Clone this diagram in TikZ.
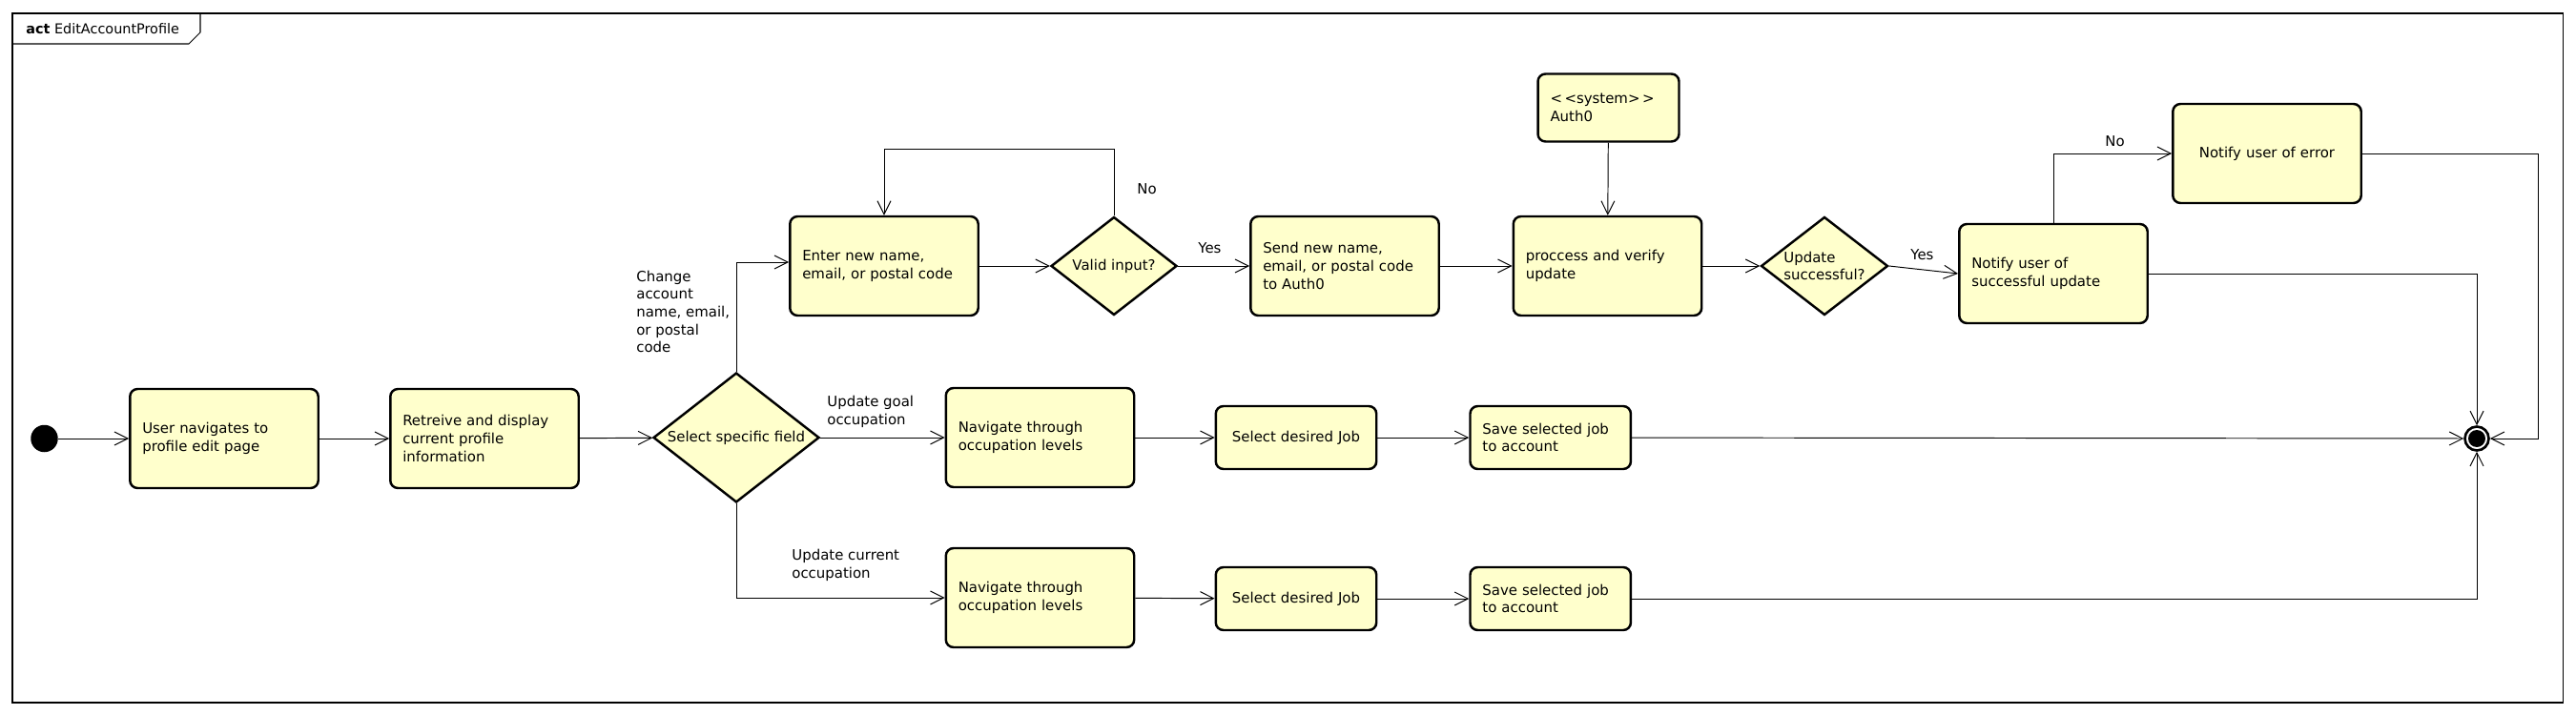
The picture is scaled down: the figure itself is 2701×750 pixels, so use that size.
\documentclass[tikz,border=0pt]{standalone}
\usepackage{fontspec}
\setmainfont{DejaVu Sans}
\usetikzlibrary{shapes.geometric,arrows.meta}
\definecolor{actfill}{RGB}{255,255,204}

\begin{document}
\begin{tikzpicture}[x=0.02cm, y=-0.02cm, font=\fontsize{8.5}{10.6}\selectfont,
    actbox/.style={rectangle, rounded corners=0.16cm, draw, line width=1.4pt, fill=actfill, align=left, inner xsep=0.26cm, inner ysep=0pt},
    bigbox/.style={actbox, text width=3.43cm, minimum height=2.08cm},
    smallbox/.style={actbox, text width=2.85cm, minimum height=1.32cm},
    decision/.style={diamond, aspect=1.28, draw, line width=1.4pt, fill=actfill, inner sep=1pt, align=left},
    flow/.style={-{Straight Barb[length=2.8mm,width=2.8mm]}, line width=0.55pt},
    guard/.style={anchor=west, align=left, inner sep=0pt}]
    \useasboundingbox (0,0) rectangle (2701,750);

    % frame
    \draw[line width=0.6pt] (13,14) rectangle (2687,737);
    \draw[line width=0.6pt] (13,46) -- (198,46) -- (210,34) -- (210,14);
    \node[anchor=west, inner sep=0pt, font=\fontsize{8.2}{9.8}\selectfont] (title) at (27,30) {\textbf{act} EditAccountProfile};

    % start and main row
    \node[circle, fill=black, minimum size=0.57cm, inner sep=0pt] (init) at (46.5,460) {};
    \node[bigbox] (b1) at (235,460) {User navigates to\\profile edit page};
    \node[bigbox] (b2) at (508,460) {Retreive and display\\current profile\\information};
    \node[decision, minimum width=3.48cm, minimum height=2.72cm] (sel) at (772,459) {Select specific field};

    % account branch
    \node[bigbox] (enter) at (927,279) {Enter new name,\\email, or postal code};
    \node[decision, minimum width=2.64cm, minimum height=2.06cm] (valid) at (1168,279) {Valid input?};
    \node[bigbox] (send) at (1410,279) {Send new name,\\email, or postal code\\to Auth0};
    \node[bigbox] (proc) at (1685.5,279) {proccess and verify\\update};
    \node[actbox, text width=2.44cm, minimum height=1.42cm] (auth) at (1686.5,113) {<\,<system>\,>\\Auth0};
    \node[decision, minimum width=2.66cm, minimum height=2.06cm] (upd) at (1913,279) {Update\\successful?};
    \node[bigbox] (succ) at (2153,287) {Notify user of\\successful update};
    \node[bigbox, align=center] (err) at (2377,161) {Notify user of error};

    % occupation rows
    \node[bigbox] (nav1) at (1090.5,459) {Navigate through\\occupation levels};
    \node[smallbox, align=center] (pick1) at (1359,459) {Select desired Job};
    \node[smallbox] (save1) at (1625.7,459) {Save selected job\\to account};
    \node[bigbox] (nav2) at (1090.5,627) {Navigate through\\occupation levels};
    \node[smallbox, align=center] (pick2) at (1359,628) {Select desired Job};
    \node[smallbox] (save2) at (1625.7,628) {Save selected job\\to account};

    % end
    \node[circle, draw, line width=1.5pt, fill=white, minimum size=0.5cm, inner sep=0pt,
          path picture={\fill[black] (path picture bounding box.center) circle (0.18cm);}] (fin) at (2597,460) {};
    \coordinate (errbend) at (2661,460);

    % flows
    \draw[flow] (init) -- (b1);
    \draw[flow] (b1) -- (b2);
    \draw[flow] (b2) -- (sel);
    \draw[flow] (sel.north) |- ([yshift=0.08cm]enter.west);
    \draw[flow] (sel) -- (nav1);
    \draw[flow] (sel.south) |- (nav2);
    \draw[flow] (enter) -- (valid);
    \draw[flow] (valid.north) -- ++(0,-70) -| (enter.north);
    \draw[flow] (valid) -- (send);
    \draw[flow] (send) -- (proc);
    \draw[flow] (auth) -- (proc);
    \draw[flow] (proc) -- (upd);
    \draw[flow] (upd.east) -- (succ.west);
    \draw[flow] (succ.north) |- (err);
    \draw[flow] (err.east) -| (errbend) -- (fin);
    \draw[flow] (succ.east) -| (fin);
    \draw[flow] (nav1) -- (pick1);
    \draw[flow] (pick1) -- (save1);
    \draw[flow] (save1) -- (fin);
    \draw[flow] (nav2) -- (pick2);
    \draw[flow] (pick2) -- (save2);
    \draw[flow] (save2) -| (fin);

    % guards
    \node[guard] (lchange) at (667,327) {Change\\account\\name, email,\\or postal\\code};
    \node[guard] (lgoal) at (867,432) {Update goal\\occupation};
    \node[guard] (lcurrent) at (830,593) {Update current\\occupation};
    \node[guard] (lno1) at (1192,198) {No};
    \node[guard] (lyes1) at (1256,260) {Yes};
    \node[guard] (lyes2) at (2003,267) {Yes};
    \node[guard] (lno2) at (2207,148) {No};
\end{tikzpicture}
\end{document}
